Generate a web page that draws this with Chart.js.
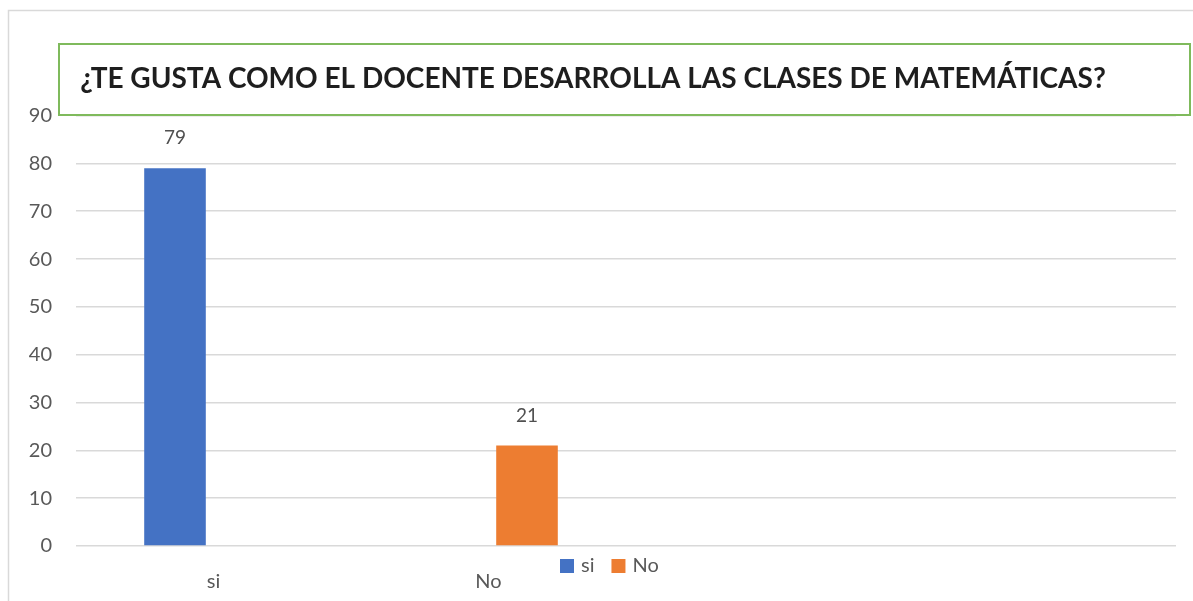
<!DOCTYPE html>
<html>
<head>
<meta charset="utf-8">
<script src="https://cdn.jsdelivr.net/npm/chart.js@4.4.0/dist/chart.umd.min.js"></script>
<style>
html, body { margin: 0; padding: 0; background: #fff; }
#wrap { position: relative; width: 1193px; height: 601px; }
</style>
</head>
<body>
<div id="wrap"><canvas id="myChart"></canvas></div>
<script>
const titulo = '¿TE GUSTA COMO EL DOCENTE DESARROLLA LAS CLASES DE MATEMÁTICAS?';
const categorias = ['si', 'No', '', ''];
const series = ['si', 'No'];
const valoresSi = [79, null, null, null];
const valoresNo = [null, 21, null, null];
const ejeY = { min: 0, max: 90, paso: 10 };

const fuente = 'Lato, "Open Sans", sans-serif';
const gris = '#595959';

// marco exterior del gráfico
const marco = {
    id: 'marco',
    beforeDraw(chart) {
        let c = chart.ctx;
        c.save();
        c.fillStyle = '#fff';
        c.fillRect(0, 0, chart.width, chart.height);
        c.strokeStyle = '#d9d9d9';
        c.lineWidth = 1.5;
        c.beginPath();
        c.moveTo(8.5, chart.height);
        c.lineTo(8.5, 10.5);
        c.lineTo(chart.width, 10.5);
        c.stroke();
        c.restore();
    }
};

// caja verde alrededor del título
const cajaTitulo = {
    id: 'cajaTitulo',
    afterDraw(chart) {
        let c = chart.ctx;
        c.save();
        c.strokeStyle = '#7fba5c';
        c.lineWidth = 2;
        c.strokeRect(59, 44, 1131, 71);
        c.restore();
    }
};

// valores encima de las barras
const etiquetas = {
    id: 'etiquetas',
    afterDatasetsDraw(chart) {
        let c = chart.ctx;
        c.save();
        c.font = '19px ' + fuente;
        c.fillStyle = '#505050';
        c.textAlign = 'center';
        c.textBaseline = 'middle';
        chart.data.datasets.forEach(function (ds, i) {
            chart.getDatasetMeta(i).data.forEach(function (bar, j) {
                if (ds.data[j] === null) return;
                c.fillText(ds.data[j], bar.x, bar.y - 30);
            });
        });
        c.restore();
    }
};

// leyenda debajo del eje, como en Excel
const leyenda = {
    id: 'leyenda',
    afterDraw(chart) {
        let c = chart.ctx;
        c.save();
        c.font = '20px ' + fuente;
        c.textBaseline = 'middle';
        let x = 560;
        let y = 566;
        chart.data.datasets.forEach(function (ds) {
            c.fillStyle = ds.backgroundColor;
            c.fillRect(x, y - 7, 14, 14);
            x += 21;
            c.fillStyle = gris;
            c.fillText(ds.label, x, y);
            x += c.measureText(ds.label).width + 17;
        });
        c.restore();
    }
};

let ctx = document.getElementById('myChart');
let myChart = new Chart(ctx, {
    type: 'bar',
    data: {
        labels: categorias,
        datasets: [{
            label: series[0],
            data: valoresSi,
            backgroundColor: '#4472c4',
            categoryPercentage: 0.56,
            barPercentage: 0.8
        }, {
            label: series[1],
            data: valoresNo,
            backgroundColor: '#ed7d31',
            categoryPercentage: 0.56,
            barPercentage: 0.8
        }]
    },
    options: {
        responsive: true,
        maintainAspectRatio: false,
        animation: false,
        layout: { padding: { left: 10, right: 17, top: 0, bottom: 9 } },
        plugins: {
            legend: { display: false },
            tooltip: { enabled: false },
            title: {
                display: true,
                text: titulo,
                color: '#1e1e1e',
                font: { family: fuente, size: 28, weight: 'bold' },
                padding: { top: 62, bottom: 20 }
            }
        },
        scales: {
            x: {
                afterFit(scale) { scale.height = 46; },
                grid: { display: false, drawTicks: false },
                border: { display: false },
                ticks: { color: gris, font: { family: fuente, size: 20 }, padding: 24 }
            },
            y: {
                min: ejeY.min,
                max: ejeY.max,
                afterFit(scale) { scale.width = 66; },
                grid: { color: '#d9d9d9', lineWidth: 1.5, drawTicks: false },
                border: { display: false },
                ticks: { stepSize: ejeY.paso, color: gris, font: { family: fuente, size: 20 }, padding: 24 }
            }
        }
    },
    plugins: [marco, etiquetas, cajaTitulo, leyenda]
});
</script>
</body>
</html>
